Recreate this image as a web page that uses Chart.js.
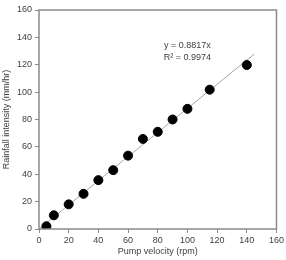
<!DOCTYPE html>
<html>
<head>
<meta charset="utf-8">
<script src="https://cdn.jsdelivr.net/npm/chart.js@4"></script>
<style>
  html, body { margin: 0; padding: 0; background: #fff; }
  #wrap { width: 286px; height: 260px; }
</style>
</head>
<body>
<div id="wrap"><canvas id="c" width="286" height="260"></canvas></div>
<script>
// measured data
const pumpVelocity = [5, 10, 20, 30, 40, 50, 60, 70, 80, 90, 100, 115, 140];
const rainfall = [2, 10, 18, 25.7, 35.7, 43, 53.6, 65.8, 71, 80, 87.8, 101.8, 119.8];
const trendX = [0, 145];
const trendY = [0, 127.8];
const eqLines = ['y = 0.8817x', 'R\u00b2 = 0.9974'];
const xTicks = [0, 20, 40, 60, 80, 100, 120, 140, 160];
const yTicks = [0, 20, 40, 60, 80, 100, 120, 140, 160];

const textColor = '#404040';
const frameColor = '#8a8a8a';
const fontSpec = { family: "'Liberation Sans', Arial, sans-serif", size: 9 };

// box around plot + fitted equation
const framePlugin = {
  id: 'frame',
  afterDraw(chart) {
    const { ctx, chartArea: a, scales } = chart;
    ctx.save();
    ctx.strokeStyle = frameColor;
    ctx.lineWidth = 1.5;
    ctx.strokeRect(a.left, a.top, a.right - a.left, a.bottom - a.top);
    ctx.fillStyle = textColor;
    ctx.font = "9px 'Liberation Sans', Arial, sans-serif";
    ctx.textAlign = 'center';
    ctx.textBaseline = 'middle';
    const cx = scales.x.getPixelForValue(100);
    ctx.fillText(eqLines[0], cx, scales.y.getPixelForValue(133.8));
    ctx.fillText(eqLines[1], cx, scales.y.getPixelForValue(125));
    ctx.restore();
  }
};

new Chart(document.getElementById('c'), {
  type: 'scatter',
  data: {
    datasets: [
      {
        label: 'fit',
        type: 'line',
        data: trendX.map((x, i) => ({ x, y: trendY[i] })),
        borderColor: '#a6a6a6',
        borderWidth: 1,
        pointRadius: 0,
        fill: false,
        order: 2
      },
      {
        label: 'data',
        data: pumpVelocity.map((x, i) => ({ x, y: rainfall[i] })),
        backgroundColor: '#000',
        borderColor: '#000',
        pointRadius: 4.5,
        order: 1
      }
    ]
  },
  options: {
    responsive: false,
    animation: false,
    devicePixelRatio: 1,
    layout: { padding: { top: 10, right: 8, left: 0, bottom: 0 } },
    plugins: { legend: { display: false }, tooltip: { enabled: false } },
    scales: {
      x: {
        type: 'linear',
        min: 0, max: 160,
        afterBuildTicks: s => { s.ticks = xTicks.map(v => ({ value: v })); },
        afterFit: s => { s.height = 31; },
        grid: { drawOnChartArea: false, drawTicks: true, tickLength: 4, color: frameColor },
        border: { display: false },
        ticks: { color: textColor, font: fontSpec, padding: 2, maxRotation: 0 },
        title: { display: true, text: 'Pump velocity (rpm)', color: textColor, font: fontSpec, padding: { top: 0, bottom: 3 } }
      },
      y: {
        type: 'linear',
        min: 0, max: 160,
        afterBuildTicks: s => { s.ticks = yTicks.map(v => ({ value: v })); },
        afterFit: s => { s.width = 39; },
        grid: { drawOnChartArea: false, drawTicks: true, tickLength: 4, color: frameColor },
        border: { display: false },
        ticks: { color: textColor, font: fontSpec, padding: 3 },
        title: { display: true, text: 'Rainfall intensity (mm/hr)', color: textColor, font: fontSpec, padding: { top: 1, bottom: 0 } }
      }
    }
  },
  plugins: [framePlugin]
});
</script>
</body>
</html>
